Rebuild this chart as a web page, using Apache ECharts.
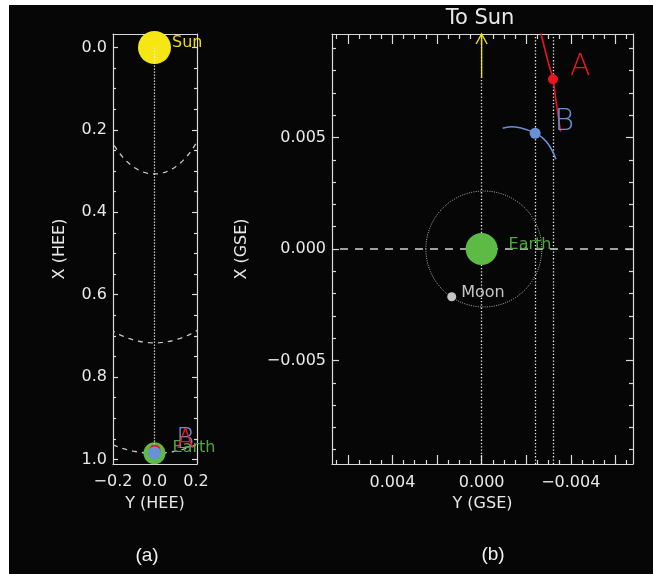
<!DOCTYPE html>
<html><head><meta charset="utf-8">
<script src="https://cdn.jsdelivr.net/npm/echarts@6/dist/echarts.min.js"></script>
<style>html,body{margin:0;padding:0;background:#fff}#c{width:653px;height:574px}</style>
</head><body><div id="c"></div>
<script>
// ---------- Panel (a): HEE coordinates, points are [Y, X] ----------
const heeXMajor = [0, 0.2, 0.4, 0.6, 0.8, 1.0];
const heeXMinor = [0.05,0.1,0.15,0.25,0.3,0.35,0.45,0.5,0.55,0.65,0.7,0.75,0.85,0.9,0.95];
const heeYLabels = [-0.2, 0, 0.2];
const sunHEE = [0, 0];
const earthHEE = [0, 0.985];
const stereoA_HEE = [0.002, 0.977];
const stereoB_HEE = [0, 0.984];
const orbitRadiiHEE = [0.307, 0.717, 0.985];

// ---------- Panel (b): GSE coordinates, points are [Y, X] ----------
const gseYMajor = [-0.006, -0.004, -0.002, 0, 0.002, 0.004, 0.006];
const gseYLabels = [-0.004, 0, 0.004];
const gseYMinor = [-0.0065,-0.0055,-0.005,-0.0045,-0.0035,-0.003,-0.0025,-0.0015,-0.001,-0.0005,
                   0.0005,0.001,0.0015,0.0025,0.003,0.0035,0.0045,0.005,0.0055,0.0065];
const gseXMajor = [-0.005, 0, 0.005];
const gseXMinor = [-0.009,-0.008,-0.007,-0.006,-0.004,-0.003,-0.002,-0.001,
                   0.001,0.002,0.003,0.004,0.006,0.007,0.008,0.009];
const earthGSE = [0, 0];
const moonGSE = [0.00134, -0.00214];
const moonOrbitGSE = [-0.0001, 0, 0.0026];
const sunArrowGSE = [[0, 0.00767], [0, 0.00964]];
const trackA = [[-0.00265, 0.0098], [-0.00269, 0.00955], [-0.0030, 0.00833], [-0.0032, 0.00761], [-0.00333, 0.00668], [-0.00354, 0.00526]];
const trackB = [[-0.00094, 0.00541], [-0.00134, 0.00548], [-0.00171, 0.00544], [-0.0024, 0.00519], [-0.00291, 0.00481], [-0.00333, 0.00402]];
const stereoA_GSE = [-0.0032, 0.00761];
const stereoB_GSE = [-0.0024, 0.00519];
const verticalRefLinesGSE = [0, -0.0024, -0.0032];

const FG = '#d9d9d9', TXT = '#e8e8e8';
const FONT = "'DejaVu Sans', sans-serif";
const YEL = '#f5e614', GRN = '#5cba45', GRN_T = '#4fa63c', RED = '#ea161e', BLU = '#6a90d6', GRY = '#c4c4c4';

function fmt(d) { return v => (v < -1e-12 ? '\u2212' : '') + Math.abs(v).toFixed(d); }

function tickAxis(dim, grid, pos, min, max, ticks, len, opts) {
  const a = {
    gridIndex: grid, type: 'value', position: pos, min, max,
    splitLine: { show: false },
    axisLine: { show: !!(opts && opts.line), onZero: false, lineStyle: { color: FG, width: 1.2 } },
    axisTick: ticks ? { show: true, inside: true, length: len, customValues: ticks, lineStyle: { color: FG, width: 1.2 } } : { show: false },
    axisLabel: { show: false }
  };
  if (opts && opts.inverse) a.inverse = true;
  if (opts && opts.labels) {
    a.axisLabel = { show: true, customValues: opts.labels, formatter: opts.fmt, color: TXT, fontSize: 16, fontFamily: FONT, margin: opts.margin };
  }
  if (opts && opts.name) {
    Object.assign(a, { name: opts.name, nameLocation: 'middle', nameGap: opts.nameGap,
      nameTextStyle: { color: TXT, fontSize: 16, fontFamily: FONT } });
  }
  return a;
}

function circleSeries(xi, yi, data, style, z) {
  return {
    type: 'custom', xAxisIndex: xi, yAxisIndex: yi, data: data, z: z, silent: true, clip: true,
    renderItem(params, api) {
      const cx = api.value(0), cy = api.value(1), r = api.value(2);
      const pts = [];
      for (let i = 0; i <= 360; i += 1) {
        const t = i * Math.PI / 180;
        pts.push(api.coord([cx + r * Math.cos(t), cy + r * Math.sin(t)]));
      }
      const cs = params.coordSys;
      return {
        type: 'polyline', shape: { points: pts },
        style: Object.assign({ fill: null }, style),
        clipPath: { type: 'rect', shape: { x: cs.x, y: cs.y, width: cs.width, height: cs.height } }
      };
    }
  };
}

function dot(xi, yi, z, size, pt, color, label) {
  const s = { type: 'scatter', xAxisIndex: xi, yAxisIndex: yi, z: z, symbolSize: size, data: [pt],
    itemStyle: { color: color, opacity: 1 }, emphasis: { disabled: true } };
  if (label) s.label = Object.assign({ show: true, position: 'right', fontFamily: FONT, fontSize: 16 }, label);
  return s;
}

const aYmin = -0.0327, aYmax = 1.011, aXmin = -0.2, aXmax = 0.205;
const bYmin = -0.00964, bYmax = 0.00964, bXmin = -0.00679, bXmax = 0.00671;

const chart = echarts.init(document.getElementById('c'), null, { renderer: 'canvas' });
chart.setOption({
  animation: false,
  backgroundColor: '#060606',
  graphic: [
    { type: 'rect', shape: { x: 0, y: 0, width: 653, height: 5 }, style: { fill: '#fff' } },
    { type: 'rect', shape: { x: 0, y: 0, width: 9, height: 574 }, style: { fill: '#fff' } },
    { type: 'text', x: 480, y: 19, style: { text: 'To Sun', fill: TXT, font: "21px 'DejaVu Sans', sans-serif", align: 'center', verticalAlign: 'middle' } },
    { type: 'text', x: 147, y: 556, style: { text: '(a)', fill: '#f2f2f2', font: "19px 'Liberation Sans', Arial, sans-serif", align: 'center', verticalAlign: 'middle' } },
    { type: 'text', x: 493, y: 555, style: { text: '(b)', fill: '#f2f2f2', font: "19px 'Liberation Sans', Arial, sans-serif", align: 'center', verticalAlign: 'middle' } }
  ],
  grid: [
    { left: 113, top: 34, width: 84, height: 430, containLabel: false },
    { left: 332, top: 34, width: 301, height: 430, containLabel: false }
  ],
  xAxis: [
    tickAxis('x', 0, 'bottom', aXmin, aXmax, null, 0, { line: true, labels: heeYLabels, fmt: fmt(1), margin: 10, name: 'Y (HEE)', nameGap: 32 }),
    tickAxis('x', 0, 'top', aXmin, aXmax, null, 0, { line: true }),
    tickAxis('x', 1, 'bottom', bXmin, bXmax, gseYMajor, 9, { line: true, inverse: true, labels: gseYLabels, fmt: fmt(3), margin: 11, name: 'Y (GSE)', nameGap: 32 }),
    tickAxis('x', 1, 'bottom', bXmin, bXmax, gseYMinor, 4, { inverse: true }),
    tickAxis('x', 1, 'top', bXmin, bXmax, gseYMajor, 10, { line: true, inverse: true }),
    tickAxis('x', 1, 'top', bXmin, bXmax, gseYMinor, 5, { inverse: true })
  ],
  yAxis: [
    tickAxis('y', 0, 'left', aYmin, aYmax, heeXMajor, 5, { line: true, inverse: true, labels: heeXMajor, fmt: fmt(1), margin: 6, name: 'X (HEE)', nameGap: 45 }),
    tickAxis('y', 0, 'left', aYmin, aYmax, heeXMinor, 3, { inverse: true }),
    tickAxis('y', 0, 'right', aYmin, aYmax, heeXMajor, 5, { line: true, inverse: true }),
    tickAxis('y', 0, 'right', aYmin, aYmax, heeXMinor, 3, { inverse: true }),
    tickAxis('y', 1, 'left', bYmin, bYmax, gseXMajor, 7, { line: true, labels: gseXMajor, fmt: fmt(3), margin: 6, name: 'X (GSE)', nameGap: 82 }),
    tickAxis('y', 1, 'left', bYmin, bYmax, gseXMinor, 4, {}),
    tickAxis('y', 1, 'right', bYmin, bYmax, gseXMajor, 7, { line: true }),
    tickAxis('y', 1, 'right', bYmin, bYmax, gseXMinor, 4, {})
  ],
  series: [
    // ----- Panel (a) -----
    circleSeries(0, 0, orbitRadiiHEE.map(r => [sunHEE[0], sunHEE[1], r]), { stroke: '#c8c8c8', lineWidth: 1.3, lineDash: [5, 5] }, 1),
    dot(0, 0, 2, 33, sunHEE, YEL, { distance: 1, offset: [0, -5], formatter: 'Sun', color: '#e9da16' }),
    dot(0, 0, 2, 22, earthHEE, GRN, { distance: 7, offset: [0, -5], formatter: 'Earth', color: GRN_T }),
    { type: 'line', xAxisIndex: 0, yAxisIndex: 0, z: 3, data: [sunHEE, earthHEE], symbol: 'none',
      lineStyle: { color: '#f0f0f0', width: 1.3, type: [1.3, 1.7] } },
    dot(0, 0, 4, 11, stereoA_HEE, RED, null),
    dot(0, 0, 5, 13, stereoB_HEE, BLU, { distance: 15, offset: [0, -12], formatter: 'B', color: BLU, fontSize: 28, fontWeight: 200 }),
    dot(0, 0, 6, 1, stereoA_HEE, 'rgba(0,0,0,0)', { distance: 21, offset: [0, -9], formatter: 'A', color: RED, fontSize: 26, fontWeight: 200 }),

    // ----- Panel (b) -----
    { type: 'line', xAxisIndex: 2, yAxisIndex: 4, z: 1, data: [], symbol: 'none',
      markLine: { z: 1, silent: true, symbol: 'none', precision: 8, label: { show: false },
        data: verticalRefLinesGSE.map(v => ({ xAxis: v, lineStyle: { color: '#eeeeee', width: 1.3, type: [1.3, 2] } }))
          .concat([{ yAxis: 0, lineStyle: { color: '#d2d2d2', width: 1.5, type: [8, 7] } }]) } },
    circleSeries(2, 4, [moonOrbitGSE], { stroke: '#b4b4b4', lineWidth: 1, lineDash: [1, 1.3] }, 1),
    { type: 'line', xAxisIndex: 2, yAxisIndex: 4, z: 2, data: sunArrowGSE, symbol: 'none',
      lineStyle: { color: '#ece21a', width: 1.3 } },
    { type: 'scatter', xAxisIndex: 2, yAxisIndex: 4, z: 3, data: [sunArrowGSE[1]],
      symbol: 'path://M0,10L5,0L10,10', symbolSize: [11, 10], symbolOffset: [0, 5], symbolKeepAspect: false,
      itemStyle: { color: 'rgba(0,0,0,0)', borderColor: '#ece21a', borderWidth: 1.3, opacity: 1 } },
    dot(2, 4, 3, 32, earthGSE, GRN, { distance: 11, offset: [0, -4], formatter: 'Earth', color: GRN_T }),
    dot(2, 4, 3, 9, moonGSE, GRY, { distance: 5, offset: [0, -4], formatter: 'Moon', color: GRY }),
    { type: 'line', xAxisIndex: 2, yAxisIndex: 4, z: 3, data: trackA, symbol: 'none', smooth: true,
      lineStyle: { color: RED, width: 1.6 } },
    { type: 'line', xAxisIndex: 2, yAxisIndex: 4, z: 3, data: trackB, symbol: 'none', smooth: true,
      lineStyle: { color: BLU, width: 1.6 } },
    dot(2, 4, 4, 10, stereoA_GSE, RED, { distance: 12, offset: [0, -12], formatter: 'A', color: RED, fontSize: 30, fontWeight: 200 }),
    dot(2, 4, 4, 11, stereoB_GSE, BLU, { distance: 14, offset: [0, -11], formatter: 'B', color: BLU, fontSize: 30, fontWeight: 200 })
  ]
});
</script></body></html>
